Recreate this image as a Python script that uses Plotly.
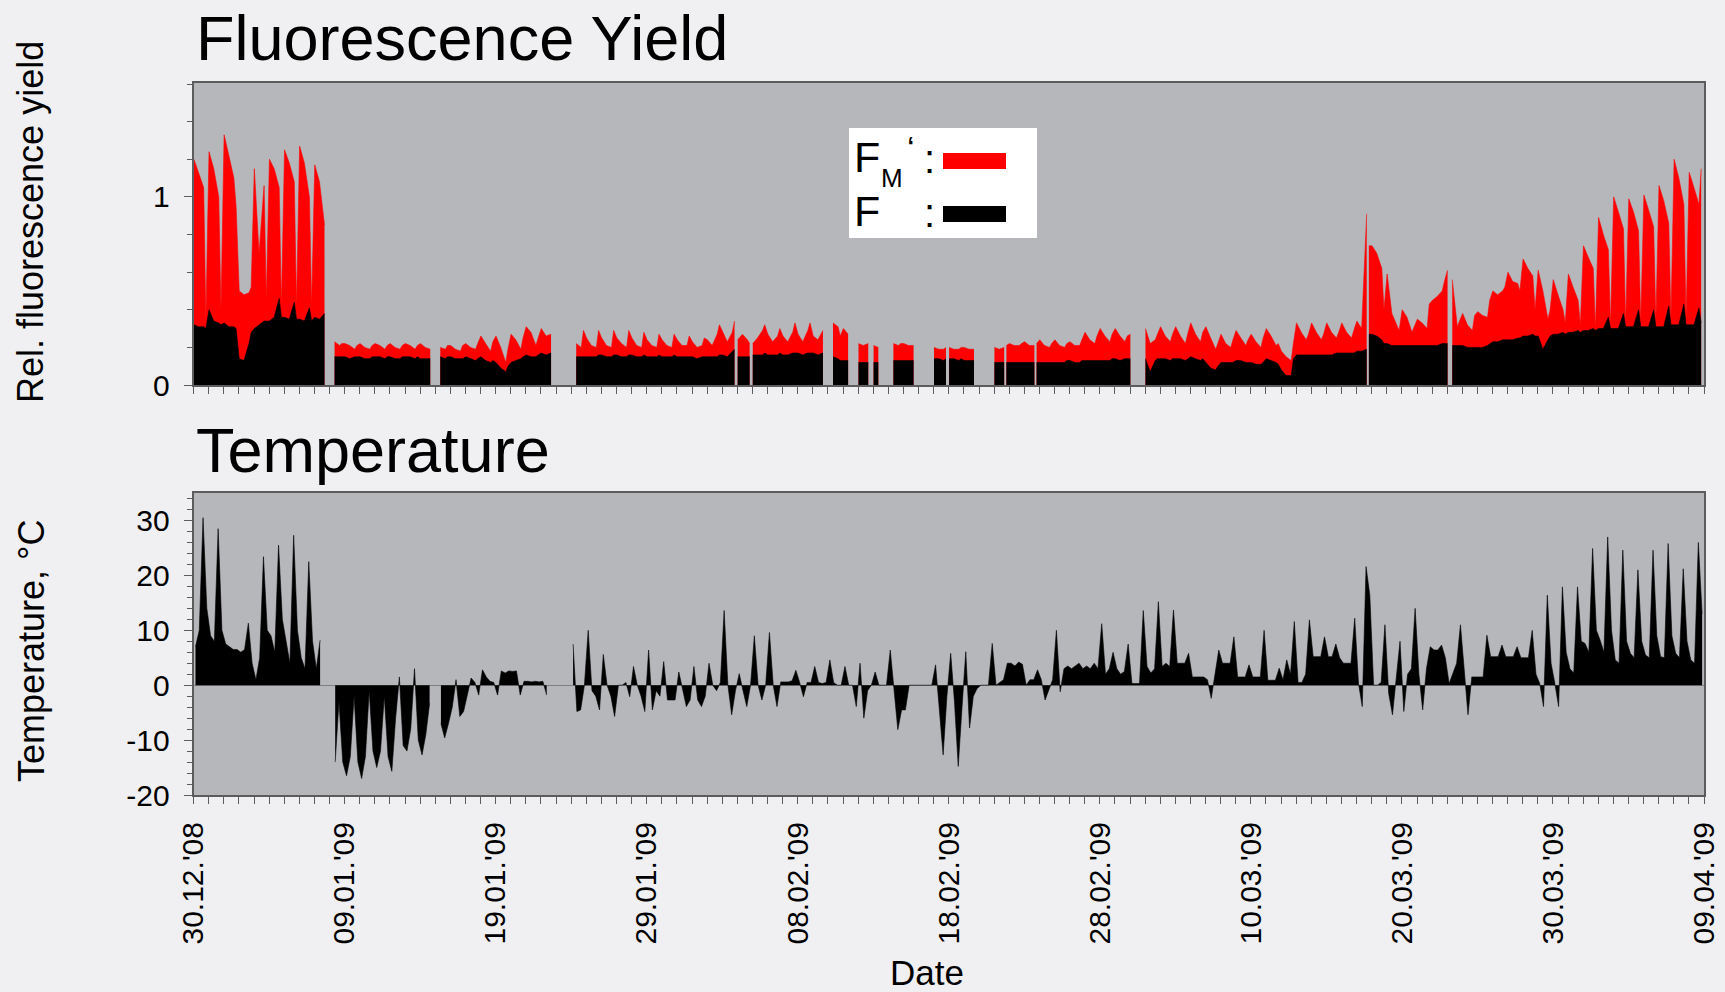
import pandas as pd
import plotly.graph_objects as go

# ---------------- DATA ----------------
# Four samples per day, one row per day, starting 30.12.2008
START = "2008-12-30"
END = "2009-04-09"
FLUOR_SAMPLE_HOURS = [0.5, 8, 16, 19.5]
TEMP_SAMPLE_HOURS = [3, 9, 15, 21]

# Fm' (red), relative fluorescence yield
FM = [
    [1.20, 1.13, 1.05, 0.35], [1.24, 1.15, 1.00, 0.40], [1.33, 1.22, 1.10, 0.95],
    [0.50, 0.48, 0.49, 0.52], [1.15, 0.70, 1.06, 0.45], [1.20, 1.15, 1.05, 0.42],
    [1.25, 1.18, 1.08, 0.42], [1.27, 1.18, 1.00, 0.42], [1.17, 1.08, 0.85, None],
    [None, 0.23, 0.21, 0.22], [0.22, 0.21, 0.19, 0.21], [0.22, 0.20, 0.19, 0.21],
    [0.22, 0.21, 0.19, 0.21], [0.22, 0.20, 0.19, 0.21], [0.22, 0.21, 0.19, 0.21],
    [0.22, 0.20, 0.19, None],
    [None, 0.20, 0.19, 0.21], [0.21, 0.19, 0.18, 0.21], [0.22, 0.20, 0.19, 0.22],
    [0.26, 0.22, 0.18, 0.23], [0.26, 0.20, 0.12, 0.19], [0.27, 0.24, 0.19, 0.25],
    [0.31, 0.28, 0.21, 0.25], [0.30, 0.26, 0.27, None],
    [None, None, None, None],
    [None, 0.22, 0.20, 0.29], [0.25, 0.21, 0.20, 0.29], [0.25, 0.21, 0.20, 0.29],
    [0.25, 0.22, 0.20, 0.29], [0.25, 0.21, 0.20, 0.28], [0.24, 0.21, 0.20, 0.27],
    [0.24, 0.21, 0.20, 0.27], [0.24, 0.21, 0.21, 0.26], [0.23, 0.20, 0.21, 0.25],
    [0.24, 0.21, 0.27, 0.32], [0.28, 0.23, 0.28, 0.34],
    [0.24, 0.27, 0.24, 0.22], [0.22, 0.25, 0.29, 0.32], [0.27, 0.23, 0.26, 0.30],
    [0.26, 0.23, 0.28, 0.33], [0.27, 0.23, 0.29, 0.33], [0.26, 0.24, 0.29, None],
    [None, 0.33, 0.31, 0.26], [0.30, 0.27, None, None],
    [0.22, 0.21, 0.22, None], [0.21, 0.20, None, None], [None, 0.22, 0.21, 0.22],
    [0.22, 0.21, 0.21, None], [None, None, None, None], [0.20, 0.19, 0.19, 0.20],
    [0.20, 0.19, 0.19, 0.20], [0.20, 0.19, 0.19, None], [None, None, None, None],
    [0.20, 0.19, 0.20, 0.21], [0.22, 0.21, 0.21, 0.22], [0.23, 0.21, 0.21, 0.22],
    [0.24, 0.21, 0.20, 0.22], [0.24, 0.21, 0.20, 0.22], [0.23, 0.21, 0.21, 0.24],
    [0.28, 0.24, 0.22, 0.26], [0.30, 0.26, 0.23, 0.27], [0.30, 0.26, 0.23, 0.26],
    [0.27, None, None, None],
    [0.30, 0.22, 0.24, 0.27], [0.31, 0.26, 0.23, 0.27], [0.31, 0.26, 0.22, 0.27],
    [0.33, 0.27, 0.23, 0.28], [0.31, 0.25, 0.19, 0.22], [0.27, 0.22, 0.20, 0.24],
    [0.29, 0.25, 0.21, 0.24], [0.27, 0.23, 0.20, 0.25], [0.30, 0.26, 0.21, 0.22],
    [0.18, 0.15, 0.13, 0.22], [0.33, 0.28, 0.24, 0.27], [0.33, 0.28, 0.24, 0.27],
    [0.33, 0.28, 0.25, 0.28], [0.33, 0.28, 0.25, 0.29], [0.34, 0.30, 0.91, 0.74],
    [0.74, 0.70, 0.62, 0.40], [0.59, 0.38, 0.32, 0.29], [0.40, 0.36, 0.28, 0.31],
    [0.35, 0.33, 0.30, 0.43], [0.45, 0.47, 0.50, 0.55], [0.61, 0.56, 0.31, 0.34],
    [0.38, 0.32, 0.29, 0.37], [0.39, 0.37, 0.36, 0.45], [0.50, 0.48, 0.50, 0.52],
    [0.60, 0.55, 0.54, 0.50], [0.67, 0.62, 0.58, 0.40], [0.61, 0.50, 0.35, 0.40],
    [0.56, 0.48, 0.40, 0.33], [0.59, 0.52, 0.45, 0.32], [0.74, 0.68, 0.62, 0.30],
    [0.89, 0.80, 0.72, 0.32], [1.00, 0.92, 0.83, 0.33], [0.99, 0.92, 0.82, 0.33],
    [1.01, 0.93, 0.84, 0.34], [1.06, 0.98, 0.86, 0.35], [1.20, 1.10, 0.96, 0.35],
    [1.13, 1.05, 0.96, 1.15],
]

# F (black), relative fluorescence yield
F = [
    [0.32, 0.31, 0.31, 0.30], [0.40, 0.34, 0.33, 0.32], [0.33, 0.31, 0.31, 0.30],
    [0.14, 0.13, 0.22, 0.28], [0.30, 0.32, 0.34, 0.34], [0.34, 0.36, 0.46, 0.36],
    [0.36, 0.35, 0.44, 0.35], [0.35, 0.34, 0.41, 0.34], [0.36, 0.35, 0.38, None],
    [None, 0.15, 0.15, 0.15], [0.15, 0.14, 0.15, 0.15], [0.15, 0.14, 0.14, 0.15],
    [0.15, 0.15, 0.14, 0.15], [0.15, 0.14, 0.14, 0.15], [0.15, 0.15, 0.14, 0.15],
    [0.14, 0.14, 0.14, None],
    [None, 0.15, 0.14, 0.15], [0.15, 0.14, 0.14, 0.14], [0.15, 0.14, 0.13, 0.14],
    [0.15, 0.13, 0.12, 0.13], [0.12, 0.09, 0.07, 0.10], [0.12, 0.13, 0.14, 0.15],
    [0.16, 0.15, 0.15, 0.16], [0.17, 0.16, 0.17, None],
    [None, None, None, None],
    [None, 0.15, 0.15, 0.15], [0.15, 0.15, 0.15, 0.16], [0.16, 0.15, 0.15, 0.16],
    [0.16, 0.15, 0.15, 0.16], [0.16, 0.15, 0.15, 0.16], [0.15, 0.15, 0.15, 0.16],
    [0.15, 0.15, 0.15, 0.16], [0.15, 0.15, 0.15, 0.15], [0.15, 0.14, 0.15, 0.15],
    [0.15, 0.15, 0.15, 0.16], [0.16, 0.15, 0.18, 0.19],
    [0.15, 0.15, 0.15, 0.15], [0.16, 0.16, 0.16, 0.17], [0.16, 0.16, 0.16, 0.17],
    [0.16, 0.16, 0.17, 0.17], [0.17, 0.16, 0.17, 0.17], [0.17, 0.16, 0.17, None],
    [None, 0.15, 0.14, 0.13], [0.13, 0.13, None, None],
    [0.12, 0.12, 0.12, None], [0.12, 0.12, None, None], [None, 0.13, 0.13, 0.13],
    [0.13, 0.13, 0.13, None], [None, None, None, None], [0.14, 0.14, 0.13, 0.14],
    [0.14, 0.14, 0.13, 0.14], [0.13, 0.13, 0.13, None], [None, None, None, None],
    [0.12, 0.12, 0.12, 0.12], [0.12, 0.12, 0.12, 0.12], [0.12, 0.12, 0.12, 0.12],
    [0.12, 0.12, 0.12, 0.12], [0.12, 0.12, 0.12, 0.13], [0.13, 0.12, 0.12, 0.13],
    [0.13, 0.13, 0.13, 0.13], [0.13, 0.13, 0.13, 0.14], [0.14, 0.13, 0.14, 0.14],
    [0.14, None, None, None],
    [0.14, 0.07, 0.13, 0.14], [0.14, 0.14, 0.13, 0.14], [0.14, 0.14, 0.13, 0.14],
    [0.15, 0.14, 0.13, 0.14], [0.12, 0.09, 0.08, 0.10], [0.12, 0.12, 0.12, 0.12],
    [0.13, 0.13, 0.12, 0.12], [0.12, 0.11, 0.11, 0.12], [0.14, 0.13, 0.12, 0.11],
    [0.08, 0.05, 0.05, 0.14], [0.16, 0.16, 0.16, 0.16], [0.16, 0.16, 0.16, 0.16],
    [0.16, 0.16, 0.17, 0.17], [0.17, 0.17, 0.17, 0.17], [0.18, 0.18, 0.19, 0.27],
    [0.27, 0.26, 0.24, 0.22], [0.22, 0.21, 0.21, 0.21], [0.21, 0.21, 0.21, 0.21],
    [0.21, 0.21, 0.21, 0.21], [0.21, 0.21, 0.22, 0.22], [0.22, 0.21, 0.21, 0.21],
    [0.21, 0.20, 0.20, 0.20], [0.20, 0.20, 0.21, 0.22], [0.23, 0.23, 0.24, 0.24],
    [0.24, 0.24, 0.25, 0.25], [0.26, 0.26, 0.27, 0.26], [0.26, 0.19, 0.24, 0.26],
    [0.27, 0.27, 0.28, 0.27], [0.28, 0.28, 0.29, 0.28], [0.29, 0.29, 0.30, 0.29],
    [0.30, 0.30, 0.36, 0.30], [0.30, 0.30, 0.38, 0.31], [0.31, 0.31, 0.40, 0.31],
    [0.31, 0.31, 0.40, 0.31], [0.31, 0.31, 0.42, 0.32], [0.32, 0.32, 0.43, 0.32],
    [0.32, 0.32, 0.41, 0.33],
]

# Short interruptions of the fluorescence record
FLUOR_BREAKS = ["2009-02-04 00:00", "2009-02-05 00:00", "2009-02-18 00:00",
                "2009-02-21 18:00", "2009-02-23 19:00", "2009-03-17 17:00",
                "2009-03-23 06:00"]

# Temperature, °C
TEMP = [
    [7, 10, 30.5, 14], [9, 8, 28.5, 10], [7.5, 7, 6.5, 6.5], [6, 6.5, 11.3, 4],
    [1, 5, 23.4, 10], [9, 6, 25.5, 12], [8, 4, 27.3, 10], [5, 3, 22.5, 8],
    [3, 8.2, None, None],
    [None, -14, -3, -14], [-16.5, -13, -2, -14], [-17, -13, -1, -12], [-15, -12, -2, -13],
    [-15.7, -6, 1.5, -11], [-12, -8, 3, -10], [-12.7, -9, -3.3, None],
    [None, -7, -9.6, -7], [-4, 1, -5.7, -4.8], [-2, 1.3, 0.5, -1.8], [2.8, 1.5, 0.7, 0.5],
    [-1.8, 2.6, 2.2, 2.6], [2.5, 2.6, -1.8, 0.7], [0.7, 0.6, 0.7, 0.6], [0.7, -1.8, None, None],
    [None, None, None, None],
    [7.5, -4.8, -4.5, 0], [10, -1, -2, -4.5], [5.6, 0, -2, -5.7], [0, 0, 0.5, -2.1],
    [3.4, 0, -2, -4.8], [6.4, -4.5, -1, -2], [4.3, -2.7, -2.7, -2.7], [2.4, -1, -3.9, -2.7],
    [3.4, -2.7, -3.9, -2], [4.0, 0, -1, 0.5], [13.6, 0, -5.4, -1], [2.1, -1, -3.9, 0],
    [9.0, 0, -2.7, 0], [9.6, 0, -3.9, 0.6], [0.6, 0.6, 0.8, 2.7], [0.5, -2.1, 0.5, 0.5],
    [3.4, 0.5, 0.3, 0.5], [4.6, 0.5, 0, 0], [3.4, 0, 0, -3.9], [4.0, -6.0, -1, 0],
    [2.4, 0, 0, 0], [6.4, -1, -8.1, -4.5], [-4.5, 0, 0, 0], [0, 0, 0, 0],
    [3.7, -4, -12.7, -2], [5.8, -3, -14.8, -4], [6.1, -7.8, -2, -0.6], [0, 0, 0, 7.6],
    [0, 0.5, 1, 4], [4, 3.5, 4.2, 3.8], [0, 1, 1, 2.8], [1, -2.7, -1, 1],
    [10, -1.2, 3, 3.5], [3, 3.5, 4, 3], [3.5, 3, 4, 3], [11.2, 2, 3, 6],
    [3, 2, 2.5, 7.5], [0.3, 0.3, 0.3, 13.6], [3.4, 2.2, 3, 15.2], [3.4, 4, 3.4, 13.7],
    [4, 4, 4, 5.8], [1.5, 1.5, 1.5, 1.5], [1, -2.4, 2, 6.4], [4, 4, 4, 8.8],
    [1.5, 1.5, 1.5, 3.7], [1.5, 1.5, 1.5, 10], [0.9, 0.9, 0.9, 3.1], [1, 4.6, 2, 11.6],
    [0.5, 0.5, 2, 11.9], [5.2, 5.2, 5.2, 8.8], [5.2, 5.2, 7.5, 5], [4, 4, 4, 12.2],
    [0.3, -3.9, 21.6, 16.4], [0, 0, 0.5, 11], [-1.5, -5.4, 2, 8], [-4.8, 2, 3, 14],
    [2, -4.5, 3, 7], [6.4, 6.4, 7.3, 5], [0.3, 2, 4, 11], [2, -5.4, 1.5, 1.5],
    [1.5, 1.5, 9.1, 5.2], [5.2, 5.2, 7.3, 5.2], [5.2, 5.2, 7, 5], [5, 5, 10, 2],
    [0.3, -3.9, 16.4, 4], [0.3, -3.9, 17.9, 6], [3, 2.2, 17.9, 8], [7.6, 6, 24.9, 10],
    [8.2, 6, 27, 10], [4.6, 4, 24.6, 8], [5.8, 5, 21, 8], [5.5, 5, 24.6, 9],
    [5.2, 5, 25.8, 9], [5.8, 5, 21.2, 8], [4.6, 4, 26, 13],
]

Y2_TICKS = [-20, -10, 0, 10, 20, 30]
Y2_TICKTEXT = ["-20", "-10", "0", "10", "20", "30"]
X_TICK_STEP_DAYS = 10
TITLE_TOP = "Fluorescence Yield"
TITLE_BOTTOM = "Temperature"
YLABEL_TOP = "Rel. fluorescence yield"
YLABEL_BOTTOM = "Temperature, °C"
XLABEL = "Date"

assert len(FM) == len(F) == len(TEMP) == 100

# ---------------- build series ----------------
t0 = pd.Timestamp(START)

def sample_times(hours, ndays):
    return [t0 + pd.Timedelta(days=d, hours=h) for d in range(ndays) for h in hours]

def flat(rows):
    return [v for r in rows for v in r]

def segments(ts, vs):
    """Split a series at missing values into continuous pieces."""
    out, cur = [], []
    for t, v in zip(ts, vs):
        if v is None:
            if cur:
                out.append(cur)
            cur = []
        else:
            cur.append((t, v))
    if cur:
        out.append(cur)
    return out

fl_times = sample_times(FLUOR_SAMPLE_HOURS, len(FM))
pts = [(t, a, b) for t, a, b in zip(fl_times, flat(FM), flat(F))]
pts += [(pd.Timestamp(b), None, None) for b in FLUOR_BREAKS]
pts.sort(key=lambda p: p[0])
fl_t = [p[0] for p in pts]
fl_fm = [p[1] for p in pts]
fl_f = [p[2] for p in pts]

t_times = sample_times(TEMP_SAMPLE_HOURS, len(TEMP))
t_vals = flat(TEMP)

# ---------------- figure ----------------
W, H = 1725, 992
def px(x):
    return x / W
def py(y):
    return 1 - y / H

FONT = "Liberation Sans, Arial, Helvetica, sans-serif"
FRAME = "#5c5c5c"
RED = "#ff0000"

fig = go.Figure()

def add_filled(ts, vs, color, xa, ya):
    for seg in segments(ts, vs):
        fig.add_trace(go.Scatter(
            x=[p[0] for p in seg], y=[p[1] for p in seg], mode="lines", fill="tozeroy",
            line=dict(color=color, width=0.6), fillcolor=color,
            showlegend=False, hoverinfo="skip", xaxis=xa, yaxis=ya))

add_filled(fl_t, fl_fm, RED, "x", "y")
add_filled(fl_t, fl_f, "black", "x", "y")
add_filled(t_times, t_vals, "black", "x2", "y2")

xdom = [px(193.6), px(1704)]
day_ms = 86400000
common_x = dict(type="date", range=[START, END], domain=xdom, automargin=False,
                tick0=START, dtick=X_TICK_STEP_DAYS * day_ms,
                ticks="outside", ticklen=7, tickwidth=1.3, tickcolor=FRAME,
                minor=dict(ticks="outside", ticklen=7, tickwidth=1.3, tickcolor=FRAME,
                           dtick=day_ms, tick0=START, showgrid=False),
                showline=True, mirror=True, linecolor=FRAME, linewidth=2,
                showgrid=False, zeroline=False)

fig.update_layout(
    width=W, height=H, autosize=False,
    margin=dict(l=0, r=0, t=0, b=0, pad=0),
    paper_bgcolor="#f0f0f2", plot_bgcolor="#b5b7bb",
    font=dict(family=FONT, color="black"),
    xaxis=dict(**common_x, anchor="y", showticklabels=False),
    yaxis=dict(domain=[py(385), py(82.5)], range=[0, 1.608], anchor="x", automargin=False,
               tickvals=[0, 1], ticks="outside", ticklen=8, tickwidth=1.3, tickcolor=FRAME,
               minor=dict(ticks="outside", ticklen=5, tickwidth=1.2, tickcolor=FRAME, dtick=0.2),
               tickfont=dict(size=30), ticklabelstandoff=8,
               showline=True, mirror=True, linecolor=FRAME, linewidth=2,
               showgrid=False, zeroline=False),
    xaxis2=dict(**common_x, anchor="y2", tickformat="%d.%m.'%y", tickangle=-90,
                tickfont=dict(size=30), ticklabelstandoff=6),
    yaxis2=dict(domain=[py(795), py(493)], range=[-20, 35], anchor="x2", automargin=False,
                tickvals=Y2_TICKS, ticktext=Y2_TICKTEXT,
                ticks="outside", ticklen=8, tickwidth=1.3, tickcolor=FRAME,
                minor=dict(ticks="outside", ticklen=5, tickwidth=1.2, tickcolor=FRAME,
                           dtick=2, tick0=0),
                tickfont=dict(size=30), ticklabelstandoff=8,
                showline=True, mirror=True, linecolor=FRAME, linewidth=2,
                showgrid=False, zeroline=True, zerolinecolor="#808080", zerolinewidth=1),
)

ann = []
ann.append(dict(text=TITLE_TOP, x=px(194), y=py(38), xanchor="left", yanchor="middle",
                font=dict(size=63)))
ann.append(dict(text=TITLE_BOTTOM, x=px(194), y=py(450), xanchor="left", yanchor="middle",
                font=dict(size=63)))
ann.append(dict(text=YLABEL_TOP, x=px(31), y=py(222), textangle=-90, xanchor="center",
                yanchor="middle", font=dict(size=36)))
ann.append(dict(text=YLABEL_BOTTOM, x=px(31), y=py(651), textangle=-90, xanchor="center",
                yanchor="middle", font=dict(size=36)))
ann.append(dict(text=XLABEL, x=px(927), y=py(972), xanchor="center", yanchor="middle",
                font=dict(size=35)))
# legend text
ann.append(dict(text="F", x=px(852), y=py(157), xanchor="left", yanchor="middle", font=dict(size=43)))
ann.append(dict(text="M", x=px(879), y=py(178), xanchor="left", yanchor="middle", font=dict(size=26)))
ann.append(dict(text="\u2018", x=px(905), y=py(148), xanchor="left", yanchor="middle", font=dict(size=34)))
ann.append(dict(text=":", x=px(929), y=py(159), xanchor="center", yanchor="middle", font=dict(size=40)))
ann.append(dict(text="F", x=px(852), y=py(211), xanchor="left", yanchor="middle", font=dict(size=43)))
ann.append(dict(text=":", x=px(929), y=py(213), xanchor="center", yanchor="middle", font=dict(size=40)))
for a in ann:
    a.update(xref="paper", yref="paper", showarrow=False)
fig.update_layout(annotations=ann)

shapes = [
    dict(type="rect", xref="paper", yref="paper", x0=px(849), x1=px(1037), y0=py(238), y1=py(128),
         fillcolor="white", line=dict(width=0), layer="above"),
    dict(type="rect", xref="paper", yref="paper", x0=px(943), x1=px(1006), y0=py(169), y1=py(153),
         fillcolor=RED, line=dict(width=0), layer="above"),
    dict(type="rect", xref="paper", yref="paper", x0=px(943), x1=px(1006), y0=py(222), y1=py(206),
         fillcolor="black", line=dict(width=0), layer="above"),
]
fig.update_layout(shapes=shapes)

fig.write_html("out.html", config={"displayModeBar": False})
